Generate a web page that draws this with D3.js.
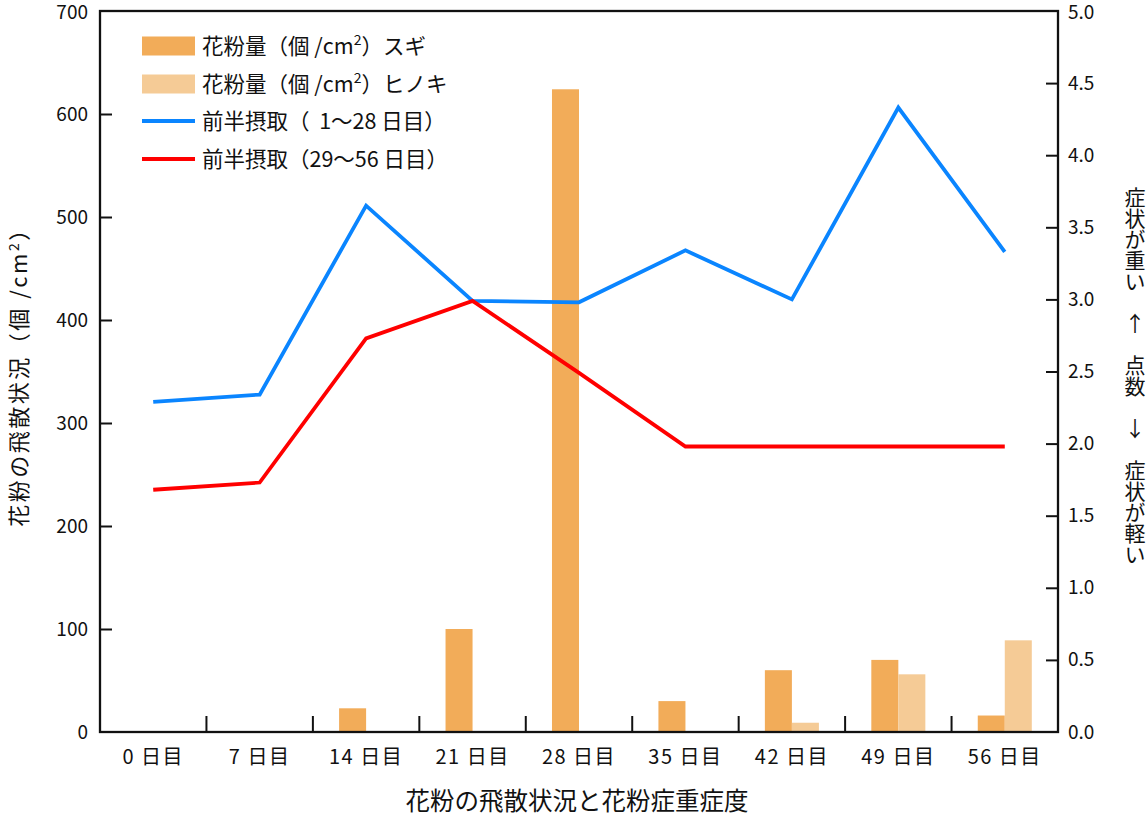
<!DOCTYPE html>
<html><head><meta charset="utf-8">
<script src="https://cdn.jsdelivr.net/npm/d3@7"></script>
<style>
html,body{margin:0;padding:0;background:#fff;}
text{font-family:"Noto Sans CJK JP","Noto Sans",sans-serif;fill:#111;}
</style></head>
<body>
<svg id="chart" width="1147" height="818"></svg>
<script>
const categories = ["0 日目","7 日目","14 日目","21 日目","28 日目","35 日目","42 日目","49 日目","56 日目"];
const sugiValues = [0, 0, 23, 100, 624, 30, 60, 70, 16];
const hinokiValues = [0, 0, 0, 0, 0, 0, 9, 56, 89];
const firstHalf = [2.29, 2.34, 3.65, 2.99, 2.98, 3.34, 3.00, 4.33, 3.33];
const secondHalf = [1.68, 1.73, 2.73, 2.99, 2.49, 1.98, 1.98, 1.98, 1.98];
const leftTicks = [0,100,200,300,400,500,600,700];
const rightTicks = [0,0.5,1,1.5,2,2.5,3,3.5,4,4.5,5];
const legendLabels = ["sugi","hinoki","first","second"];

const svg = d3.select("#chart");
const L = 100, R = 1058, T = 11, B = 732;
const cSugi = "#F2AC59", cHinoki = "#F5CB96", cBlue = "#0A85FF", cRed = "#FF0000";

const x = d3.scaleBand().domain(categories).range([L, R]).padding(0);
const xs = d3.scaleBand().domain(["sugi","hinoki"]).range([0, x.bandwidth()]).paddingInner(0).paddingOuter(0.97);
const yL = d3.scaleLinear().domain([0, 700]).range([B, T]);
const yR = d3.scaleLinear().domain([0, 5]).range([B, T]);

// bars
const barData = [];
categories.forEach((c, i) => {
  barData.push({c, k: "sugi", v: sugiValues[i]});
  barData.push({c, k: "hinoki", v: hinokiValues[i]});
});
svg.append("g").selectAll("rect").data(barData.filter(d => d.v > 0)).join("rect")
  .attr("x", d => x(d.c) + xs(d.k))
  .attr("width", xs.bandwidth())
  .attr("y", d => yL(d.v))
  .attr("height", d => yL(0) - yL(d.v))
  .attr("fill", d => d.k === "sugi" ? cSugi : cHinoki);

// lines
const line = d3.line().x((d, i) => x(categories[i]) + x.bandwidth() / 2).y(d => yR(d));
svg.append("path").datum(firstHalf).attr("d", line).attr("fill", "none").attr("stroke", cBlue).attr("stroke-width", 3.8).attr("stroke-linejoin", "miter");
svg.append("path").datum(secondHalf).attr("d", line).attr("fill", "none").attr("stroke", cRed).attr("stroke-width", 3.8).attr("stroke-linejoin", "miter");

// axes
const axL = svg.append("g").attr("transform", `translate(${L},0)`)
  .call(d3.axisLeft(yL).tickValues(leftTicks).tickSize(-12).tickPadding(12).tickFormat(d3.format("d")));
const axR = svg.append("g").attr("transform", `translate(${R},0)`)
  .call(d3.axisRight(yR).tickValues(rightTicks).tickSize(-12).tickPadding(10).tickFormat(d3.format(".1f")));
const axB = svg.append("g").attr("transform", `translate(0,${B})`)
  .call(d3.axisBottom(x).tickSize(0).tickPadding(18));
[axL, axR].forEach(g => {
  g.select(".domain").remove();
  g.selectAll(".tick line").attr("stroke", "#111").attr("stroke-width", 2);
  g.selectAll("text").style("font-size", "19px").attr("fill", "#111");
});
axB.select(".domain").remove();
axB.selectAll("text").style("font-size", "20px").style("letter-spacing", "1.5px").attr("fill", "#111")
  .attr("xml:space", "preserve").style("white-space", "pre");
axL.selectAll(".tick").filter(d => d === 700 || d === 0).select("line").remove();
axR.selectAll(".tick").filter(d => d === 5 || d === 0).select("line").remove();
axL.selectAll(".tick").filter(d => d === 700).select("text").attr("dy", "0.38em");
axR.selectAll(".tick").filter(d => d === 5).select("text").attr("dy", "0.38em");

// separators between categories
svg.append("g").selectAll("line").data(categories.slice(1)).join("line")
  .attr("x1", d => x(d)).attr("x2", d => x(d))
  .attr("y1", B).attr("y2", B - 16)
  .attr("stroke", "#111").attr("stroke-width", 2);

// frame
svg.append("rect").attr("x", L).attr("y", T).attr("width", R - L).attr("height", B - T)
  .attr("fill", "none").attr("stroke", "#111").attr("stroke-width", 2.3);

// axis titles
const lt = svg.append("text").attr("transform", `translate(27,${(T + B) / 2}) rotate(-90)`)
  .attr("text-anchor", "middle").style("font-size", "22px").style("letter-spacing", "2.5px");
lt.append("tspan").text("花粉の飛散状況（個 /cm");
lt.append("tspan").attr("dy", -8).style("font-size", "14px").text("2");
lt.append("tspan").attr("dy", 8).text("）");

svg.append("text").attr("x", 577).attr("y", 810).attr("text-anchor", "middle")
  .style("font-size", "24.5px").text("花粉の飛散状況と花粉症重症度");

svg.append("text").attr("x", 1135).attr("y", 376).attr("text-anchor", "middle")
  .style("writing-mode", "vertical-rl").style("text-orientation", "upright").style("font-size", "21px")
  .text("症状が重い　↑　点数　↓　症状が軽い");

// legend
const lg = svg.append("g");
const rowY = [46, 84, 121, 159];
const legendText = [
  ["花粉量（個 /cm", "2", "）スギ"],
  ["花粉量（個 /cm", "2", "）ヒノキ"],
  ["前半摂取（  1～28 日目）"],
  ["前半摂取（29～56 日目）"]
];
legendLabels.forEach((k, i) => {
  const cy = rowY[i];
  if (k === "sugi" || k === "hinoki") {
    lg.append("rect").attr("x", 142).attr("y", cy - 9.5).attr("width", 53).attr("height", 19)
      .attr("fill", k === "sugi" ? cSugi : cHinoki);
  } else {
    lg.append("line").attr("x1", 142).attr("x2", 195).attr("y1", cy).attr("y2", cy)
      .attr("stroke", k === "first" ? cBlue : cRed).attr("stroke-width", 4);
  }
  const t = lg.append("text").attr("x", 202).attr("y", cy + 8).style("font-size", "21.5px")
    .attr("xml:space", "preserve").style("white-space", "pre");
  const parts = legendText[i];
  t.append("tspan").text(parts[0]);
  if (parts.length > 1) {
    t.append("tspan").attr("dy", -9).style("font-size", "14px").text(parts[1]);
    t.append("tspan").attr("dy", 9).text(parts[2]);
  }
});
</script>
</body></html>
